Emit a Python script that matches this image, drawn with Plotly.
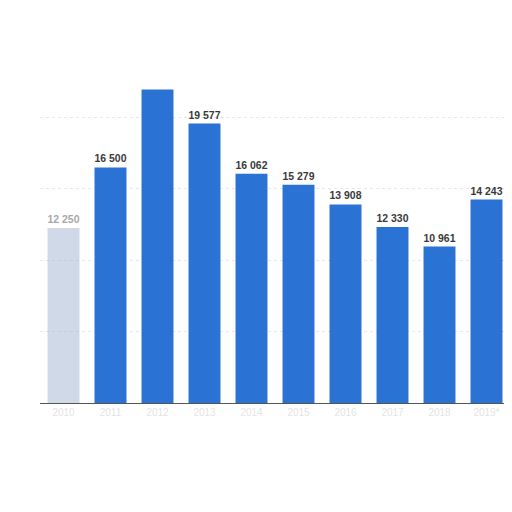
import plotly.graph_objects as go

years = ["2010", "2011", "2012", "2013", "2014", "2015", "2016", "2017", "2018", "2019*"]
values = [12250, 16500, 21950, 19577, 16062, 15279, 13908, 12330, 10961, 14243]
# the label of the tallest bar is not legible in the source, so it is left blank
show_label = [True, True, False, True, True, True, True, True, True, True]

labels = [f"<b>{v:,}</b>".replace(",", " ") if s else "" for v, s in zip(values, show_label)]
colors = ["rgba(150,170,205,0.45)"] + ["#2a73d5"] * (len(values) - 1)
label_colors = ["#a8a8a8"] + ["#3a3a3a"] * (len(values) - 1)

fig = go.Figure()
fig.add_trace(go.Bar(
    x=years,
    y=values,
    marker=dict(color=colors, line=dict(width=0)),
    text=labels,
    textposition="outside",
    textfont=dict(family="Liberation Sans", size=11, color=label_colors),
    cliponaxis=False,
    hoverinfo="x+y",
))

# the page body keeps the browser's 8px margin, so the figure is a bit smaller
fig.update_layout(
    width=504,
    height=504,
    margin=dict(l=32, r=2, t=38, b=109),
    paper_bgcolor="white",
    plot_bgcolor="white",
    bargap=0.32,
    showlegend=False,
    xaxis=dict(
        showline=True,
        linecolor="#555555",
        linewidth=1,
        ticks="",
        tickfont=dict(family="Liberation Sans", size=10, color="#e4e4e4"),
    ),
    yaxis=dict(
        range=[0, 25000],
        dtick=5000,
        showticklabels=False,
        gridcolor="#e8e8e8",
        griddash="dot",
        zeroline=False,
    ),
)

fig.write_html("out.html")
